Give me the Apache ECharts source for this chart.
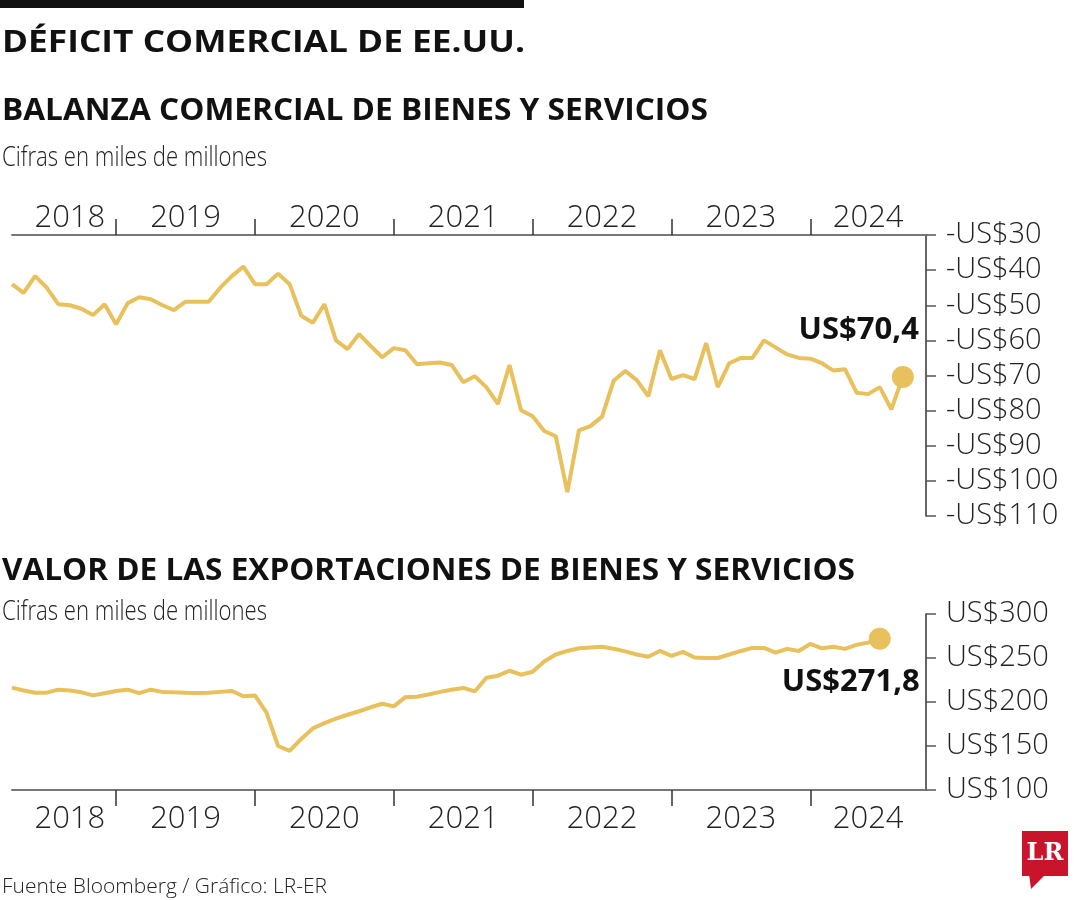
<!DOCTYPE html>
<html>
<head>
<meta charset="utf-8">
<script src="https://cdn.jsdelivr.net/npm/echarts@6/dist/echarts.min.js"></script>
<style>
html,body{margin:0;padding:0;background:#fff;}
#chart{width:1080px;height:900px;}
</style>
</head>
<body>
<div id="chart"></div>
<script>
// ---- Data ----
const months = [
  '2018-03','2018-04','2018-05','2018-06','2018-07','2018-08','2018-09','2018-10','2018-11','2018-12',
  '2019-01','2019-02','2019-03','2019-04','2019-05','2019-06','2019-07','2019-08','2019-09','2019-10','2019-11','2019-12',
  '2020-01','2020-02','2020-03','2020-04','2020-05','2020-06','2020-07','2020-08','2020-09','2020-10','2020-11','2020-12',
  '2021-01','2021-02','2021-03','2021-04','2021-05','2021-06','2021-07','2021-08','2021-09','2021-10','2021-11','2021-12',
  '2022-01','2022-02','2022-03','2022-04','2022-05','2022-06','2022-07','2022-08','2022-09','2022-10','2022-11','2022-12',
  '2023-01','2023-02','2023-03','2023-04','2023-05','2023-06','2023-07','2023-08','2023-09','2023-10','2023-11','2023-12',
  '2024-01','2024-02','2024-03','2024-04','2024-05','2024-06','2024-07','2024-08','2024-09','2024-10'
];
const yearLabelMonths = {
  '2018-08':'2018','2019-06':'2019','2020-06':'2020','2021-06':'2021',
  '2022-06':'2022','2023-06':'2023','2024-05':'2024'
};
const yearTickMonths = ['2018-12','2019-12','2020-12','2021-12','2022-12','2023-12'];

// Balanza comercial (miles de millones US$)
const balance = [
  -44,-46.5,-41.7,-45,-49.7,-50,-51,-52.8,-49.7,-55.4,
  -49.4,-47.7,-48.3,-50,-51.4,-49,-49,-49,-45,-41.7,-39,-44,
  -44,-41,-44,-53,-55,-49.7,-60,-62.5,-58.2,-61.6,-64.8,-62.2,
  -62.8,-66.8,-66.5,-66.3,-67,-71.9,-70.2,-73.3,-78.1,-67,-79.9,-81.6,
  -85.8,-87.3,-103.2,-85.6,-84.4,-81.7,-71.5,-68.7,-71.3,-75.9,-62.8,-71,
  -69.9,-71,-60.8,-73.3,-66.5,-65,-65,-60,-62,-64,-65,-65.2,
  -66.5,-68.6,-68.2,-74.9,-75.3,-73.3,-79.6,-70.4
];
// Exportaciones (miles de millones US$)
const exportsVal = [
  216.3,213,210.6,210.6,214,213,211,207.5,210,212.5,
  214,210,214,211.5,211,210.6,210.3,210.5,211.5,212.5,206.5,207.5,
  188,150,144.5,158,170,176,181,185.5,189.5,194,198,195,
  205.5,206,208.5,211.5,214,216,212,227.6,229.9,235.5,231,234.4,
  246,254,258,261,262,262.7,260.5,257.5,254,251.4,258,252.5,
  257,250.5,250,250,254,258,261.5,261.5,256,260.4,258,266,
  261,262.7,260.4,265,267.5,271.8
];
const balanceLastLabel = 'US$70,4';
const exportsLastLabel = 'US$271,8';

const balanceAxis = {min:-110, max:-30, interval:10, prefix:'-US$'};
const exportsAxis = {min:100, max:300, interval:50, prefix:'US$'};

// ---- Styles ----
const GOLD = '#E8C05C';
const LIGHT_FONT = '"Open Sans", "Liberation Sans", sans-serif';
const BOLD_FONT = '"Open Sans", "Liberation Sans", sans-serif';

const measureCtx = document.createElement('canvas').getContext('2d');
function fitScale(text, font, target){
  measureCtx.font = font;
  const w = measureCtx.measureText(text).width;
  return target / w;
}
function textEl(text, x, yMid, size, weight, target, color){
  const font = weight + ' ' + size + 'px ' + (weight >= 600 ? BOLD_FONT : LIGHT_FONT);
  const sx = fitScale(text, font, target);
  return {
    type:'text', x:x, y:yMid, scaleX:sx, scaleY:1,
    style:{text:text, font:font, fill:color || '#111', textAlign:'left', textVerticalAlign:'middle'}
  };
}

function padTo(arr, n){ const out = arr.slice(); while(out.length < n) out.push(null); return out; }

function buildSeriesData(vals, label, labelCfg){
  const last = vals.length - 1;
  const d = vals.map((v,i)=> i === last ? {
    value:v, symbolSize:22,
    label:Object.assign({show:true, formatter:label, fontFamily:BOLD_FONT, fontWeight:700,
      fontSize:31, color:'#111'}, labelCfg)
  } : v);
  return padTo(d, months.length);
}

function xAxisCfg(gridIndex, position, margin){
  return {
    type:'category', gridIndex:gridIndex, data:months, boundaryGap:false, position:position,
    axisLine:{show:true, lineStyle:{color:'#777', width:2}},
    axisTick:{show:true, length:16, interval:(i,v)=>yearTickMonths.indexOf(v) >= 0,
      lineStyle:{color:'#333', width:1.5}},
    axisLabel:{show:true, interval:(i,v)=>yearLabelMonths[v] !== undefined,
      formatter:(v)=>yearLabelMonths[v] || '', margin:margin,
      fontFamily:LIGHT_FONT, fontWeight:300, fontSize:31, color:'#222'},
    splitLine:{show:false}
  };
}
function yAxisCfg(gridIndex, ax){
  return {
    type:'value', gridIndex:gridIndex, position:'right', min:ax.min, max:ax.max, interval:ax.interval,
    axisLine:{show:true, lineStyle:{color:'#333', width:1.5}},
    axisTick:{show:true, length:10, lineStyle:{color:'#555', width:1.5}},
    axisLabel:{margin:20, formatter:(v)=>ax.prefix + Math.abs(v),
      fontFamily:LIGHT_FONT, fontWeight:300, fontSize:29, color:'#222'},
    splitLine:{show:false}
  };
}

const chart = echarts.init(document.getElementById('chart'), null, {renderer:'canvas'});
const option = {
  animation:false,
  backgroundColor:'#fff',
  grid:[
    {left:12, right:154, top:235, height:281},
    {left:12, right:154, top:614, height:176}
  ],
  xAxis:[ xAxisCfg(0,'top',1), xAxisCfg(1,'bottom',14) ],
  yAxis:[ yAxisCfg(0, balanceAxis), yAxisCfg(1, exportsAxis) ],
  series:[
    {type:'line', xAxisIndex:0, yAxisIndex:0, symbol:'circle', symbolSize:0, showSymbol:true, showAllSymbol:true,
     lineStyle:{color:GOLD, width:4}, itemStyle:{color:GOLD}, label:{show:false},
     data:buildSeriesData(balance, balanceLastLabel, {position:[27,-20], align:'right', verticalAlign:'bottom'})},
    {type:'line', xAxisIndex:1, yAxisIndex:1, symbol:'circle', symbolSize:0, showSymbol:true, showAllSymbol:true,
     lineStyle:{color:GOLD, width:4}, itemStyle:{color:GOLD}, label:{show:false},
     data:buildSeriesData(exportsVal, exportsLastLabel, {position:[51,39], align:'right', verticalAlign:'top'})}
  ],
  graphic:[
    {type:'rect', shape:{x:0, y:0, width:524, height:8}, style:{fill:'#111'}},
    textEl('DÉFICIT COMERCIAL DE EE.UU.', 2, 43, 31, 700, 523),
    textEl('BALANZA COMERCIAL DE BIENES Y SERVICIOS', 2, 111, 31, 700, 706),
    textEl('Cifras en miles de millones', 2, 158, 28, 300, 265, '#222'),
    textEl('VALOR DE LAS EXPORTACIONES DE BIENES Y SERVICIOS', 2, 571, 31, 700, 853),
    textEl('Cifras en miles de millones', 2, 612, 28, 300, 265, '#222'),
    textEl('Fuente Bloomberg / Gráfico: LR-ER', 2, 887, 20, 300, 325, '#222'),
    {type:'polygon', shape:{points:[[1029,874],[1046,874],[1031,889]]}, style:{fill:'#C8152B'}},
    {type:'rect', shape:{x:1022, y:831, width:46, height:45}, style:{fill:'#C8152B'}},
    {type:'text', x:1045, y:854, style:{text:'LR', font:'bold 24px "DejaVu Serif", "Liberation Serif", serif',
      fill:'#fff', textAlign:'center', textVerticalAlign:'middle'}}
  ]
};
chart.setOption(option);
</script>
</body>
</html>
